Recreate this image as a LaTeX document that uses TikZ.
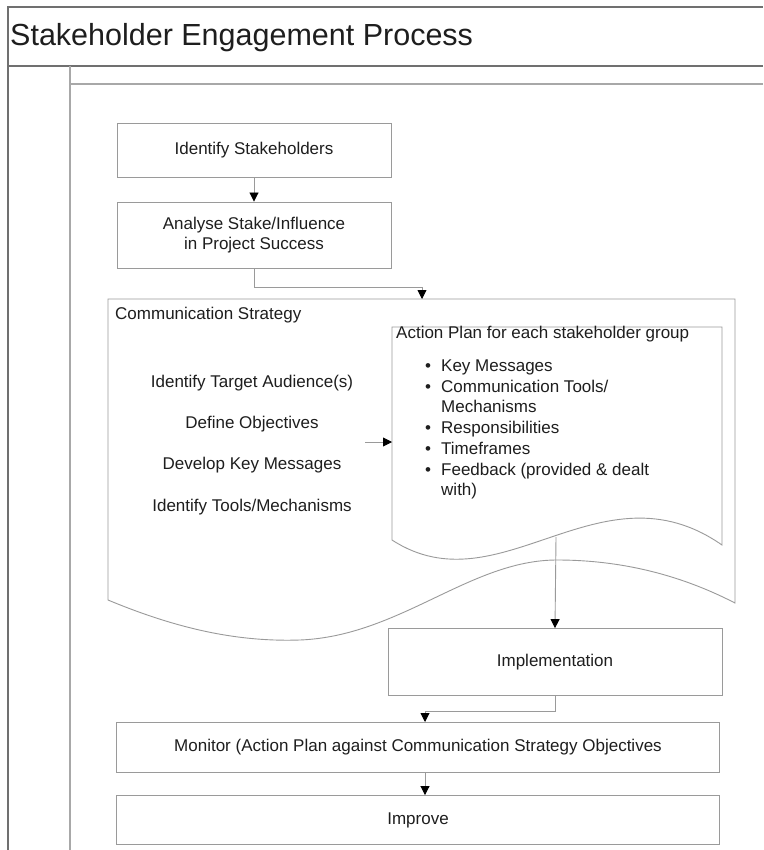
\documentclass[tikz,border=0pt]{standalone}
\usepackage{fontspec}
\setmainfont{Liberation Sans}
\usetikzlibrary{arrows.meta,calc}
\definecolor{frame}{HTML}{707070}
\definecolor{lite}{HTML}{A8A8A8}
\definecolor{boxc}{HTML}{9A9A9A}
\definecolor{txt}{HTML}{1E1E1E}
\tikzset{
  every node/.style={text=txt},
  procbox/.style={draw=boxc, line width=0.9pt, fill=white, align=center, font=\fontsize{17}{20}\selectfont},
  doc/.style={draw=boxc, line width=0.9pt, fill=white},
  lbl/.style={font=\fontsize{17}{20}\selectfont, inner sep=0pt, text height=12.5pt, text depth=3.5pt},
  arr/.style={draw=boxc, line width=0.9pt, -{Triangle[length=9pt,width=9pt,color=black]}},
  conn/.style={draw=boxc, line width=0.9pt}
}
\begin{document}
\begin{tikzpicture}[x=1pt,y=-1pt]
\useasboundingbox (0,0) rectangle (763,850);
\fill[white] (0,0) rectangle (763,850);
% frame
\draw[frame, line width=1.6pt] (8,850) -- (8,7) -- (763,7);
\draw[frame, line width=1.6pt] (8,66) -- (763,66);
\draw[lite, line width=1.2pt] (70,850) -- (70,66);
\draw[lite, line width=1.2pt] (70,84) -- (763,84);
\node[anchor=west, inner sep=0pt, font=\fontsize{30.5}{34}\selectfont] (title) at (10,38) {Stakeholder Engagement Process};

% boxes
\node[procbox, minimum width=274pt, minimum height=54pt] (ident) at (254,150) {Identify Stakeholders};
\node[procbox, minimum width=274pt, minimum height=66pt] (anal) at (254,235) {Analyse Stake/Influence\\in Project Success};

% communication strategy document shape
\draw[doc] (108,299) -- (735,299) -- (735,603)
  .. controls (700,585) and (640,560) .. (557,560)
  .. controls (470,560) and (400,636) .. (300,640)
  .. controls (240,642) and (180,630) .. (108,600) -- cycle;
\coordinate (cstop) at (422,299);
\node[lbl, anchor=west] (cslabel) at (115,315) {Communication Strategy};
\node[lbl] (s1) at (252,383) {Identify Target Audience(s)};
\node[lbl] (s2) at (252,424) {Define Objectives};
\node[lbl] (s3) at (252,465) {Develop Key Messages};
\node[lbl] (s4) at (252,507) {Identify Tools/Mechanisms};

% action plan document shape
\draw[doc] (392,327) -- (722,327) -- (722,545)
  .. controls (600,460) and (500,610) .. (392,540) -- cycle;
\node[lbl, anchor=west] (aplabel) at (396,334) {Action Plan for each stakeholder group};
\foreach \y/\t/\b [count=\i] in {367/Key Messages/1, 388/Communication Tools\slash/1, 408/Mechanisms/0, 429/Responsibilities/1, 450/Timeframes/1, 471/Feedback (provided \& dealt/1, 491/with)/0}{
  \node[lbl, anchor=west] (ap\i) at (441,\y) {\t};
  \ifnum\b=1 \node[lbl] (bul\i) at (428,\y) {•}; \fi
}
\coordinate (arrstart) at (365,442);
\coordinate (apleft) at (392,442);
\coordinate (apbot) at (556,537);

\node[procbox, minimum width=334pt, minimum height=67pt] (impl) at (555,662) {Implementation};
\node[procbox, minimum width=603pt, minimum height=50pt] (mon) at (418,747) {Monitor (Action Plan against Communication Strategy Objectives};
\node[procbox, minimum width=603pt, minimum height=49pt] (imp) at (418,820) {Improve};
\coordinate (montop) at (425,722);

% connectors
\draw[arr] (ident) -- (anal);
\draw[arr] (anal.south) -- ++(0,19) -| (cstop);
\draw[arr] (arrstart) -- (apleft);
\draw[arr] (apbot) -- (impl.north);
\draw[arr] (impl.south) -- ++(0,15) -| (montop);
\draw[arr] (mon.south -| montop) -- (imp.north -| montop);
\end{tikzpicture}
\end{document}
